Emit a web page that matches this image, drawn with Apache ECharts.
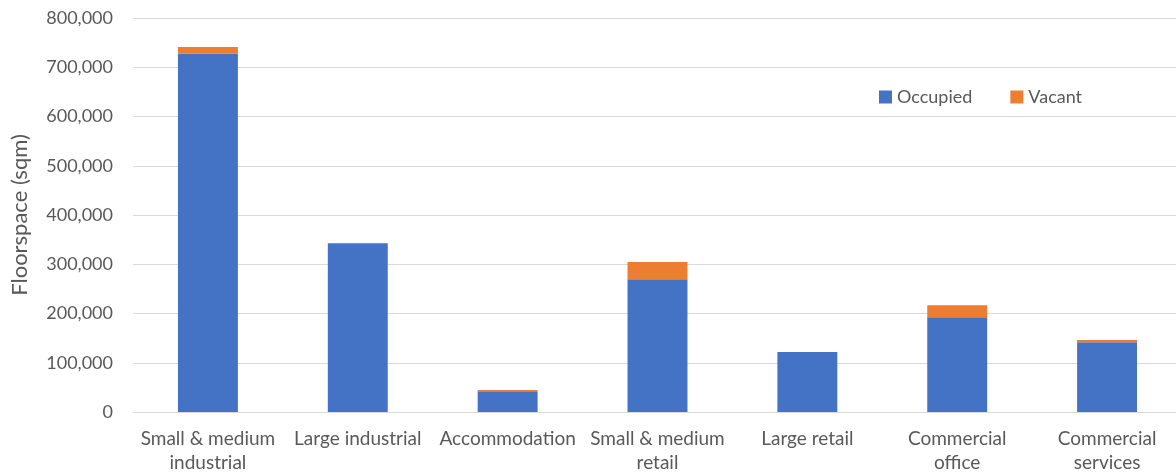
<!DOCTYPE html>
<html>
<head>
<meta charset="utf-8">
<script src="https://cdn.jsdelivr.net/npm/echarts@6/dist/echarts.min.js"></script>
<style>
  html, body { margin: 0; padding: 0; background: #fff; }
  #chart { width: 1176px; height: 472px; }
</style>
</head>
<body>
<div id="chart"></div>
<script>
// Floorspace by property type, split into occupied and vacant space (sqm)
const categories = [
  'Small & medium\nindustrial',
  'Large industrial',
  'Accommodation',
  'Small & medium\nretail',
  'Large retail',
  'Commercial\noffice',
  'Commercial\nservices'
];
const occupied = [727500, 342500, 42000, 269400, 121800, 192200, 141500];
const vacant   = [13500, 0, 2700, 35200, 0, 24400, 4700];
const yTicks = [0, 100000, 200000, 300000, 400000, 500000, 600000, 700000, 800000];

const textColor = '#595959';
const fontFamily = 'Lato, "Open Sans", sans-serif';

const chart = echarts.init(document.getElementById('chart'));
chart.setOption({
  animation: false,
  textStyle: { fontFamily: fontFamily, color: textColor },
  // the plot area runs a little past the right edge of the canvas
  grid: {
    left: 133, top: 18, width: 1049, height: 394,
    containLabel: false,
    outerBoundsMode: 'none'
  },
  legend: {
    left: 874,
    top: 83,
    itemWidth: 13,
    itemHeight: 13,
    itemGap: 38,
    icon: 'rect',
    textStyle: { fontFamily: fontFamily, fontSize: 18, color: textColor },
    data: ['Occupied', 'Vacant']
  },
  xAxis: {
    type: 'category',
    data: categories,
    axisTick: { show: false },
    axisLine: { show: true, lineStyle: { color: '#d9d9d9', width: 1 } },
    axisLabel: {
      interval: 0,
      margin: 15,
      fontSize: 19,
      lineHeight: 24,
      color: textColor,
      fontFamily: fontFamily
    }
  },
  yAxis: {
    type: 'value',
    min: yTicks[0],
    max: yTicks[yTicks.length - 1],
    interval: yTicks[1] - yTicks[0],
    name: 'Floorspace (sqm)',
    nameLocation: 'middle',
    nameGap: 102,
    nameTextStyle: { fontSize: 22, color: textColor, fontFamily: fontFamily },
    axisLine: { show: false },
    axisTick: { show: false },
    splitLine: { lineStyle: { color: '#d9d9d9', width: 1 } },
    axisLabel: {
      margin: 20,
      fontSize: 18,
      color: textColor,
      fontFamily: fontFamily,
      formatter: v => v.toLocaleString('en-US')
    }
  },
  series: [
    {
      name: 'Occupied',
      type: 'bar',
      stack: 'total',
      barWidth: '40%',
      itemStyle: { color: '#4472c4' },
      data: occupied
    },
    {
      name: 'Vacant',
      type: 'bar',
      stack: 'total',
      barWidth: '40%',
      itemStyle: { color: '#ed7d31' },
      data: vacant
    }
  ]
});
</script>
</body>
</html>
